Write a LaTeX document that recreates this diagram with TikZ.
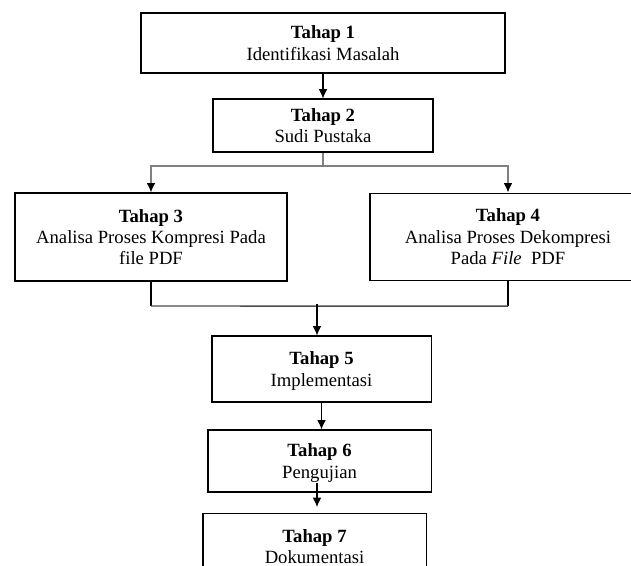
\documentclass[tikz,border=0pt]{standalone}
\usepackage{fontspec}
\setmainfont{Liberation Serif}
\usetikzlibrary{shapes,arrows.meta,positioning,calc}
\tikzset{
block/.style = {draw, line width=0.8pt, fill=white, rectangle, align=center, font=\fontsize{14}{16}\selectfont, text depth=0pt},
tmp/.style  = {coordinate},
branch/.style = {draw=black!50, line width=1.1pt},
joint/.style = {draw=black!70, line width=1.1pt},
drop/.style = {draw=black, line width=2pt}
}

\begin{document}
\begin{tikzpicture}[auto, node distance=2cm, >={Latex[length=7pt,width=6.5pt,color=black]}]
					\useasboundingbox (-242.25pt,32.25pt) rectangle (231pt,-392.25pt);
					\node[block, minimum width=273pt, minimum height=45pt] (tahap1) {\textbf{Tahap 1}\\Identifikasi Masalah};
					\node[block, below of=tahap1, node distance=61.9pt, minimum width=165pt, minimum height=39.75pt] (tahap2) {\textbf{Tahap 2}\\Sudi Pustaka};
					\node[block, below of=tahap2, node distance=83.6pt, xshift=-129pt, minimum width=204pt, minimum height=66pt] (tahap3) {\textbf{Tahap 3}\\Analisa Proses Kompresi Pada\\file PDF};
					\node[block, below of=tahap2, node distance=83.3pt, xshift=138.75pt, minimum width=207pt, minimum height=65.25pt] (tahap4) {\textbf{Tahap 4}\\Analisa Proses Dekompresi\\Pada \textit{File}~ PDF};
					\node[block, below of=tahap2, node distance=182.6pt, xshift=-1.1pt, minimum width=164.25pt, minimum height=49.5pt] (tahap5) {\textbf{Tahap 5}\\Implementasi};
					\node[block, below of=tahap5, node distance=69pt, xshift=-1.5pt, minimum width=167.25pt, minimum height=46.5pt] (tahap6) {\textbf{Tahap 6}\\Pengujian};
					\node[block, below of=tahap6, node distance=64pt, xshift=-3.75pt, minimum width=167.25pt, minimum height=49.5pt] (tahap7) {\textbf{Tahap 7}\\Dokumentasi};
					\node[tmp, below of=tahap2, node distance=30.4pt] (split) {};
					\node[tmp, below of=tahap3, node distance=51.75pt] (join3) {};
					\node[tmp, below of=tahap4, node distance=52.1pt] (join4) {};
					\coordinate (in5) at (-4.5pt,-195.75pt);
					\coordinate (out6) at (-4.5pt,-330pt);
					\coordinate (in7) at (-4.5pt,-348pt);
					\draw[->,line width=0.8pt] (tahap1) -- (tahap2);
					\draw[branch] (tahap2) -- (split);
					\draw[->,branch] (split) -| (tahap3);
					\draw[->,branch] (split) -| (tahap4);
					\draw[drop] (tahap3) -- (join3);
					\draw[drop] (tahap4) -- (join4);
					\draw[joint] (join3) -- (join4);
					\draw[->,line width=0.8pt] (in5) -- (in5 |- tahap5.north);
					\draw[->,line width=0.8pt] (tahap5.south) -- (tahap5.south |- tahap6.north);
					\draw[->,line width=0.8pt] (out6) -- (in7);
				\end{tikzpicture}
\end{document}
